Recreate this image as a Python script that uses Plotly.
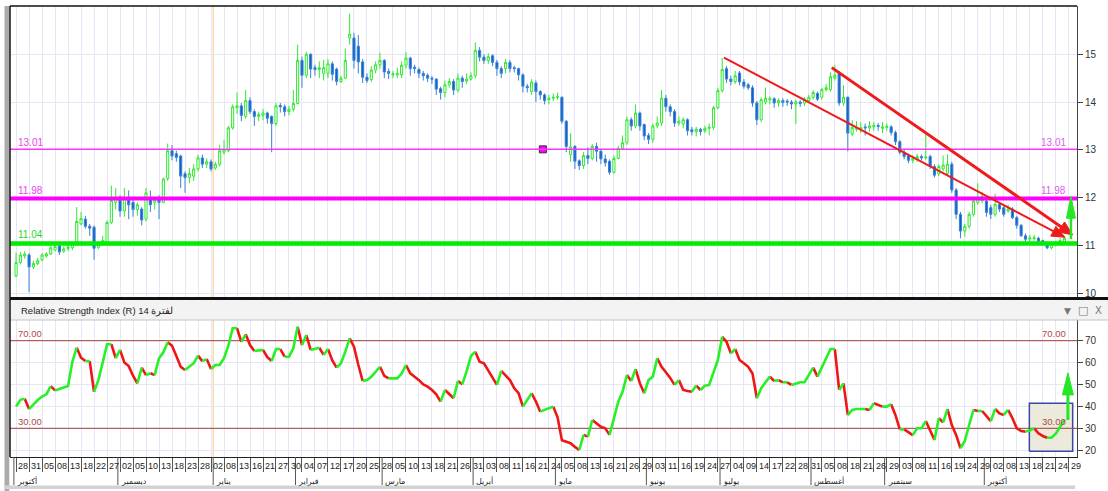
import math
import plotly.graph_objects as go

# ----------------------------- data -----------------------------
opens = [10.36,10.64,10.78,10.80,10.55,10.62,10.70,10.78,10.82,10.90,
         10.99,10.88,10.93,10.95,11.02,11.45,11.55,11.40,11.38,10.96,
         11.03,11.05,11.48,11.90,11.98,11.72,12.00,11.90,11.75,11.76,
         11.55,12.00,11.90,11.97,11.90,12.40,12.98,12.92,12.87,12.50,
         12.42,12.45,12.60,12.83,12.70,12.75,12.62,12.70,12.95,12.98,
         13.46,13.88,13.92,13.70,14.03,13.80,13.70,13.72,13.77,13.70,
         13.55,13.93,13.90,13.80,13.85,13.97,14.87,14.56,15.00,14.72,
         14.68,14.60,14.60,14.80,14.69,14.43,14.50,15.34,15.34,15.17,
         14.84,14.52,14.47,14.67,14.78,14.87,14.64,14.57,14.57,14.57,
         14.77,14.92,14.73,14.68,14.60,14.56,14.50,14.48,14.28,14.20,
         14.36,14.43,14.25,14.50,14.44,14.48,14.55,15.08,14.94,14.87,
         14.97,14.83,14.70,14.70,14.83,14.72,14.70,14.57,14.33,14.22,
         14.40,14.22,14.15,14.05,14.08,14.10,14.10,13.60,12.90,13.07,
         12.77,12.67,12.88,12.82,13.07,12.97,12.81,12.76,12.53,12.82,
         13.03,13.15,13.63,13.50,13.77,13.53,13.30,13.22,13.50,13.56,
         14.08,13.90,13.80,13.56,13.54,13.63,13.42,13.38,13.43,13.40,
         13.45,13.47,13.88,14.24,14.70,14.48,14.43,14.61,14.42,14.36,
         14.30,13.98,13.63,14.00,14.05,14.07,13.98,14.03,14.02,14.00,
         13.96,14.00,13.98,14.03,14.10,14.18,14.10,14.26,14.26,14.50,
         14.60,13.98,14.10,13.33,13.43,13.44,13.48,13.46,13.48,13.51,
         13.45,13.47,13.48,13.36,13.17,12.95,12.88,12.78,12.80,12.86,
         12.83,12.86,12.65,12.50,12.60,12.50,12.70,12.16,11.65,11.30,
         11.40,11.65,11.90,11.93,11.93,11.79,11.65,11.86,11.79,11.72,
         11.76,11.58,11.42,11.20,11.13,11.14,11.15,11.10,11.06,10.95,
         11.02,11.04,11.08]

highs = [10.85,10.86,10.88,10.84,10.68,10.74,10.84,10.86,11.00,11.06,
         11.02,10.98,11.00,11.06,11.80,11.70,11.62,11.45,11.42,11.06,
         11.20,11.52,12.25,12.20,12.05,12.20,12.15,11.95,11.90,11.80,
         12.20,12.15,12.02,12.05,12.42,13.13,13.10,12.98,12.90,12.55,
         12.62,12.70,12.90,12.90,12.82,12.80,12.75,13.10,13.20,13.50,
         13.95,14.20,13.98,14.25,14.10,13.85,13.80,13.85,13.80,13.72,
         13.98,13.98,13.95,13.92,14.25,15.20,14.95,15.05,15.02,14.78,
         14.85,14.88,14.90,14.85,14.72,14.55,15.12,15.85,15.45,15.40,
         14.90,14.60,14.75,14.85,15.03,14.90,14.70,14.65,14.72,14.85,
         15.05,14.95,14.78,14.72,14.65,14.60,14.55,14.50,14.32,14.45,
         14.50,14.48,14.60,14.55,14.60,14.62,15.25,15.15,15.00,15.02,
         15.00,14.88,14.75,14.90,14.88,14.76,14.72,14.60,14.38,14.48,
         14.45,14.25,14.18,14.15,14.18,14.20,14.12,13.62,13.35,13.10,
         12.80,12.95,13.05,13.12,13.15,13.02,12.90,12.80,12.88,13.08,
         13.30,13.70,13.68,13.95,13.80,13.55,13.35,13.55,13.70,14.25,
         14.15,13.95,13.85,13.70,13.68,13.66,13.48,13.48,13.46,13.50,
         13.55,13.92,14.30,14.92,14.75,14.55,14.65,14.65,14.48,14.40,
         14.35,14.02,14.10,14.30,14.12,14.10,14.08,14.08,14.06,14.04,
         14.05,14.04,14.10,14.15,14.25,14.22,14.30,14.38,14.62,14.78,
         14.65,14.35,14.12,13.62,13.60,13.58,13.55,13.60,13.58,13.56,
         13.58,13.55,13.52,13.40,13.20,13.00,12.92,12.88,12.92,12.90,
         13.32,12.90,12.70,12.70,12.88,12.90,12.75,12.20,11.70,11.45,
         11.70,12.00,12.30,12.12,12.00,11.85,12.08,11.90,11.85,11.85,
         11.80,11.62,11.45,11.25,11.22,11.22,11.18,11.12,11.08,11.08,
         11.10,11.15,11.20]

lows = [10.33,10.60,10.72,10.02,10.50,10.58,10.66,10.74,10.80,10.88,
        10.80,10.84,10.88,10.90,11.00,11.42,11.35,11.20,10.70,10.92,
        11.00,11.02,11.45,11.75,11.60,11.60,11.55,11.60,11.62,11.42,
        11.50,11.70,11.75,11.55,11.88,12.35,12.78,12.75,12.20,12.10,
        12.30,12.35,12.55,12.62,12.62,12.55,12.58,12.65,12.90,12.95,
        13.42,13.75,13.60,13.65,13.75,13.50,13.60,13.62,13.55,12.95,
        13.50,13.78,13.70,13.72,13.80,13.95,14.30,14.50,14.50,14.55,
        14.50,14.45,14.50,14.45,14.35,14.40,14.48,15.20,14.70,14.60,
        14.40,14.40,14.42,14.60,14.70,14.50,14.48,14.50,14.50,14.50,
        14.70,14.55,14.60,14.50,14.45,14.42,14.38,14.15,14.05,14.10,
        14.30,14.15,14.20,14.30,14.38,14.45,14.50,14.85,14.80,14.80,
        14.75,14.55,14.50,14.60,14.62,14.62,14.45,14.20,14.20,14.15,
        14.00,14.05,13.95,13.95,14.02,14.05,13.55,12.95,12.75,12.60,
        12.58,12.60,12.70,12.78,12.75,12.70,12.65,12.48,12.50,12.80,
        13.00,13.10,13.40,13.45,13.40,13.20,13.12,13.15,13.45,13.50,
        13.80,13.70,13.48,13.50,13.45,13.30,13.30,13.28,13.30,13.35,
        13.30,13.42,13.85,14.20,14.40,14.35,14.38,14.35,14.28,14.25,
        13.90,13.52,13.58,13.95,13.95,13.88,13.90,13.90,13.92,13.85,
        13.54,13.90,13.92,13.98,14.05,14.02,14.05,14.22,14.22,14.45,
        13.92,13.92,12.97,13.28,13.38,13.35,13.30,13.38,13.40,13.40,
        13.35,13.40,13.30,13.10,12.90,12.80,12.72,12.72,12.75,12.78,
        12.80,12.60,12.42,12.45,12.55,12.45,12.10,11.55,11.15,11.18,
        11.35,11.60,11.85,11.88,11.60,11.55,11.60,11.70,11.60,11.68,
        11.55,11.35,11.18,11.08,11.08,11.10,11.05,11.00,10.92,10.92,
        10.98,11.00,11.05]

closes = [10.64,10.80,10.82,10.55,10.62,10.68,10.80,10.82,10.95,10.98,
          10.86,10.93,10.97,11.02,11.50,11.56,11.40,11.36,10.94,11.03,
          11.10,11.48,11.94,11.98,11.72,11.98,11.85,11.75,11.85,11.53,
          12.10,11.85,11.96,11.90,12.39,12.98,12.87,12.84,12.45,12.42,
          12.50,12.60,12.83,12.70,12.75,12.60,12.70,12.98,13.00,13.46,
          13.90,13.92,13.72,14.03,13.80,13.70,13.74,13.77,13.66,13.55,
          13.92,13.90,13.80,13.85,13.97,14.87,14.56,15.00,14.69,14.68,
          14.72,14.72,14.80,14.58,14.43,14.50,14.87,15.42,14.87,14.84,
          14.52,14.45,14.67,14.78,14.87,14.63,14.60,14.59,14.60,14.77,
          14.92,14.70,14.70,14.60,14.55,14.50,14.48,14.27,14.20,14.36,
          14.43,14.25,14.50,14.43,14.48,14.55,15.08,14.94,14.87,14.95,
          14.83,14.70,14.60,14.83,14.70,14.70,14.57,14.33,14.30,14.42,
          14.22,14.15,14.03,14.08,14.10,14.11,13.60,13.07,13.06,12.76,
          12.67,12.88,12.82,13.07,12.97,12.81,12.73,12.53,12.82,13.03,
          13.15,13.63,13.50,13.77,13.50,13.29,13.22,13.50,13.56,14.08,
          13.90,13.80,13.56,13.60,13.63,13.40,13.38,13.43,13.38,13.45,
          13.47,13.88,14.24,14.68,14.48,14.43,14.55,14.42,14.33,14.30,
          13.98,13.63,14.05,14.08,14.07,13.98,14.03,13.99,14.00,13.96,
          14.00,13.97,14.06,14.10,14.20,14.06,14.26,14.30,14.53,14.56,
          13.98,14.10,13.35,13.47,13.45,13.46,13.46,13.50,13.51,13.49,
          13.48,13.49,13.36,13.17,12.95,12.86,12.78,12.82,12.86,12.83,
          12.85,12.65,12.47,12.65,12.68,12.70,12.16,11.65,11.30,11.40,
          11.65,11.93,12.00,12.02,11.69,11.65,11.86,11.76,11.65,11.76,
          11.58,11.42,11.20,11.13,11.16,11.16,11.08,11.05,10.95,11.05,
          11.06,11.10,11.15]

rsi_values = [40,43,43.5,38.8,41,42.9,44.5,45.5,49.3,47.3,
              48,48.5,49.3,60.4,66.8,62.2,60.7,60.7,46.7,52,
              60,68.4,68.4,62,65.8,60,58.4,54,50.5,57.7,
              54.3,55.1,54.3,62,64.7,69.3,67.7,63,58.1,56.6,
              58,59.7,63.2,60.7,61.6,57.1,58.9,58.9,62,67.7,
              75.7,75.7,69.5,72.9,68,65.3,65.5,65.8,62.5,60.7,
              66.2,66.2,62.7,62.7,66.5,76.4,68,72.6,65.8,66.3,
              66.8,63.5,66.2,61,57.7,59.7,65,71.1,67.3,59,
              51.6,52,53.5,56,58.1,54,52.8,52.8,52.8,55,
              58.9,55.1,53.5,52,50,49,47.5,45.5,42.2,47.5,
              45.7,43.7,51.6,50.1,56,63,65,60.4,59.7,56.5,
              53,49.8,56.2,54,52,48.3,46,39.9,43,46,
              42.2,37.6,38.5,39.2,39.9,35,24.5,23.9,23.2,21.5,
              20.1,27,26.2,33.8,32.3,30.7,30,27,34.6,42.1,
              46.7,54.3,51.6,57,50.5,46,52,53.6,62,58.1,
              55.6,53,49.8,52,47.5,47,46.7,49.5,47.5,49.5,
              49.8,55.8,61.2,71.8,69.5,64.2,66.2,61.2,59.7,58.1,
              55,43.7,48.3,51,53.6,51.6,52,51,51,49.8,
              50.5,51,51,54.7,57.7,53.6,58.1,62,66.2,66.2,
              47.5,50.5,36,38.4,38.8,38.8,38.8,38.4,41.4,40.5,
              39.9,39.9,41,36,29.5,29.5,28.2,26.9,30,30,
              33.3,29,24.7,34.6,32.7,38.8,31.5,27,20.9,24.2,
              31.5,38.4,37.9,37.9,35.5,33.3,38.8,36.8,36.1,38.4,
              34.6,30,28.8,28.5,29,30,27.7,26.5,25.7,25.7,
              27.5,30.7,33.8]

tick_labels = ["28","31","05","08","13","18","22","27",
               "02","05","10","13","18","23","28",
               "02","08","13","16","21","27","30",
               "04","07","12","17","20","25",
               "28","05","10","13","18","21","26",
               "31","03","08","11","16","21","24",
               "05","08","13","16","21","26","29",
               "03","11","16","19","24",
               "27","04","09","14","17","22","28",
               "31","05","08","18","21","26",
               "29","03","08","11","16","19","24","29",
               "02","08","13","18","21","24","29"]
tick_step = 3

month_names = ["أكتوبر","ديسمبر","يناير","فبراير","مارس","أبريل",
               "مايو","يونيو","يوليو","أغسطس","سبتمبر","أكتوبر"]
month_boundaries = [-0.5, 23.5, 45.5, 64.5, 84.5, 105.5, 124.5, 145.5, 162.5, 183.5, 200.5, 223.5]
year_boundary = 45.5

price_levels = [13.01, 11.98, 11.04]
price_level_labels = ["13.01", "11.98", "11.04"]
rsi_levels = [70, 30]
rsi_level_labels = ["70.00", "30.00"]

# drawn objects (candle index, value)
trend_lines = [(163.4, 14.93, 242.1, 11.17), (188.3, 14.72, 243.9, 11.22)]
price_arrow = (243.5, 11.13, 243.5, 12.03)
rsi_arrow = (242.8, 33.8, 242.8, 55.3)
rsi_box = (233.9, 19.5, 243.9, 41.4)
marker_point = (121.6, 13.01)

# ----------------------------- layout constants -----------------------------
W, H = 1108, 491
PL, PR = 10, 1077
P_TOP, P_BOT = 6, 297
R_TOP, R_BOT = 320, 457
X_RANGE = [-1.4, 244.9]
P_RANGE = [9.92, 16.01]
R_RANGE = [16.9, 79.45]

GRID = "#e6e6f4"
FONT = "Liberation Sans, Arial, sans-serif"
AR_FONT = "DejaVu Sans, sans-serif"


def py2paper(py):
    return (R_BOT - py) / (R_BOT - P_TOP)


def px2paper(px):
    return (px - PL) / (PR - PL)


def data_to_px(x, y, panel):
    px = PL + (x - X_RANGE[0]) / (X_RANGE[1] - X_RANGE[0]) * (PR - PL)
    if panel == "price":
        py = P_TOP + (P_RANGE[1] - y) / (P_RANGE[1] - P_RANGE[0]) * (P_BOT - P_TOP)
    else:
        py = R_TOP + (R_RANGE[1] - y) / (R_RANGE[1] - R_RANGE[0]) * (R_BOT - R_TOP)
    return px, py


def px_to_data(px, py, panel):
    x = X_RANGE[0] + (px - PL) / (PR - PL) * (X_RANGE[1] - X_RANGE[0])
    if panel == "price":
        y = P_RANGE[1] - (py - P_TOP) / (P_BOT - P_TOP) * (P_RANGE[1] - P_RANGE[0])
    else:
        y = R_RANGE[1] - (py - R_TOP) / (R_BOT - R_TOP) * (R_RANGE[1] - R_RANGE[0])
    return x, y


fig = go.Figure()

# RSI box (drawn first so lines sit on top, gridlines hidden under it)
bx0, by0, bx1, by1 = rsi_box
fig.add_trace(go.Scatter(x=[bx0, bx1, bx1, bx0, bx0], y=[by0, by0, by1, by1, by0], mode="lines",
                         fill="toself", fillcolor="#ece9dd", line=dict(color="#3a47a8", width=1.5),
                         xaxis="x2", yaxis="y2", hoverinfo="skip", showlegend=False))
# RSI level lines
for lv in rsi_levels:
    fig.add_trace(go.Scatter(x=[X_RANGE[0], X_RANGE[1]], y=[lv, lv], mode="lines",
                             line=dict(color="#a23c3c", width=1), xaxis="x2", yaxis="y2",
                             hoverinfo="skip", showlegend=False))

idx = list(range(len(closes)))
fig.add_trace(go.Candlestick(
    x=idx, open=opens, high=highs, low=lows, close=closes,
    increasing=dict(line=dict(color="#2fe82f", width=1), fillcolor="#ffffff"),
    decreasing=dict(line=dict(color="#3b80d6", width=1), fillcolor="#0b5fc6"),
    whiskerwidth=0, xaxis="x", yaxis="y", hoverinfo="skip", showlegend=False))

# RSI coloured runs
runs = []
for i in range(len(rsi_values) - 1):
    up = rsi_values[i + 1] >= rsi_values[i]
    if runs and runs[-1][0] == up:
        runs[-1][1].append(i + 1)
    else:
        runs.append([up, [i, i + 1]])
gx, gy, rx, ry = [], [], [], []
for up, pts in runs:
    tx, ty = (gx, gy) if up else (rx, ry)
    tx.extend(pts + [None])
    ty.extend([rsi_values[p] for p in pts] + [None])

fig.add_trace(go.Scatter(x=rx, y=ry, mode="lines", line=dict(color="#f01616", width=2.6),
                         xaxis="x2", yaxis="y2", hoverinfo="skip", showlegend=False))
fig.add_trace(go.Scatter(x=gx, y=gy, mode="lines", line=dict(color="#26f026", width=2.6),
                         xaxis="x2", yaxis="y2", hoverinfo="skip", showlegend=False))

shapes = []
annotations = []

# year boundary (orange)
shapes.append(dict(type="line", xref="x", yref="paper", x0=year_boundary, x1=year_boundary,
                   y0=py2paper(P_BOT), y1=1, line=dict(color="#f6c88c", width=1), layer="below"))
shapes.append(dict(type="line", xref="x2", yref="paper", x0=year_boundary, x1=year_boundary,
                   y0=0, y1=py2paper(R_TOP), line=dict(color="#f6c88c", width=1), layer="below"))

# price levels
lvl_style = [("#ff33ff", 1.5), ("#ff00ff", 4), ("#00ee00", 4.5)]
for lv, (c, w) in zip(price_levels, lvl_style):
    shapes.append(dict(type="line", xref="paper", yref="y", x0=0, x1=1, y0=lv, y1=lv,
                       line=dict(color=c, width=w), layer="above"))


def add_arrow(x0, y0, x1, y1, panel, color, width, head_len, head_w):
    xr = "x" if panel == "price" else "x2"
    yr = "y" if panel == "price" else "y2"
    p0 = data_to_px(x0, y0, panel)
    p1 = data_to_px(x1, y1, panel)
    dx, dy = p1[0] - p0[0], p1[1] - p0[1]
    L = math.hypot(dx, dy)
    ux, uy = dx / L, dy / L
    nx, ny = -uy, ux
    bx, by = p1[0] - head_len * ux, p1[1] - head_len * uy
    sx, sy = px_to_data(bx + ux, by + uy, panel)
    shapes.append(dict(type="line", xref=xr, yref=yr, x0=x0, y0=y0, x1=sx, y1=sy,
                       line=dict(color=color, width=width), layer="above"))
    pts = [p1, (bx + nx * head_w / 2, by + ny * head_w / 2), (bx - nx * head_w / 2, by - ny * head_w / 2)]
    dpts = [px_to_data(a, b, panel) for a, b in pts]
    path = "M {} {} L {} {} L {} {} Z".format(dpts[0][0], dpts[0][1], dpts[1][0], dpts[1][1],
                                             dpts[2][0], dpts[2][1])
    shapes.append(dict(type="path", xref=xr, yref=yr, path=path, fillcolor=color,
                       line=dict(color=color, width=1), layer="above"))


add_arrow(*trend_lines[0], "price", "#f01a1a", 2, 13, 11)
add_arrow(*trend_lines[1], "price", "#f01a1a", 3, 14, 12)
add_arrow(*price_arrow, "price", "#26e626", 2.5, 22, 9)
add_arrow(*rsi_arrow, "rsi", "#26e626", 3, 22, 11)

# frame pieces
shapes.append(dict(type="rect", xref="paper", yref="paper", x0=px2paper(4.5), x1=px2paper(9.3),
                   y0=py2paper(491), y1=py2paper(6), fillcolor="#ababab", line=dict(width=0)))
shapes.append(dict(type="rect", xref="paper", yref="paper", x0=px2paper(4.5), x1=px2paper(1075),
                   y0=py2paper(489), y1=py2paper(485.5), fillcolor="#d2d2d2", line=dict(width=0)))
shapes.append(dict(type="rect", xref="paper", yref="paper", x0=0, x1=px2paper(1108),
                   y0=py2paper(320), y1=py2paper(300), fillcolor="#f3f3f3",
                   line=dict(width=0)))
shapes.append(dict(type="line", xref="paper", yref="paper", x0=0, x1=px2paper(1108),
                   y0=py2paper(320), y1=py2paper(320), line=dict(color="#c4c4c4", width=1)))
shapes.append(dict(type="line", xref="paper", yref="paper", x0=0, x1=px2paper(1108),
                   y0=py2paper(298.5), y1=py2paper(298.5), line=dict(color="#111111", width=3)))
shapes.append(dict(type="line", xref="paper", yref="paper", x0=0, x1=1,
                   y0=1, y1=1, line=dict(color="#111111", width=1.5)))
shapes.append(dict(type="line", xref="paper", yref="paper", x0=0, x1=0,
                   y0=0, y1=1, line=dict(color="#111111", width=1.5)))

# month dividers and labels
for b, name in zip(month_boundaries, month_names):
    shapes.append(dict(type="line", xref="x2", yref="paper", x0=b, x1=b,
                       y0=0, y1=py2paper(485), line=dict(color="#555555", width=1)))
    annotations.append(dict(x=b, y=py2paper(481), xref="x2", yref="paper", text=name,
                            showarrow=False, xanchor="left", yanchor="middle", xshift=1,
                            font=dict(family=AR_FONT, size=8, color="#222222")))

tick_pos = [k * tick_step for k in range(len(tick_labels))]
for p, t in zip(tick_pos, tick_labels):
    annotations.append(dict(x=p, y=py2paper(466), xref="x2", yref="paper", text=t,
                            showarrow=False, xanchor="left", yanchor="middle", xshift=0,
                            font=dict(family=FONT, size=9, color="#222222")))

# level labels
lbl_colors_left = ["#f03cf0", "#f03cf0", "#2ad42a"]
lbl_shift = [7, 8, 9]
for lv, txt, c, s in zip(price_levels, price_level_labels, lbl_colors_left, lbl_shift):
    annotations.append(dict(x=px2paper(16), y=lv, xref="paper", yref="y", text=txt,
                            showarrow=False, xanchor="left", yanchor="middle", yshift=s,
                            font=dict(family=FONT, size=10, color=c)))
for lv, txt, s in zip(price_levels[:2], price_level_labels[:2], lbl_shift[:2]):
    annotations.append(dict(x=px2paper(1068), y=lv, xref="paper", yref="y", text=txt,
                            showarrow=False, xanchor="right", yanchor="middle", yshift=s,
                            font=dict(family=FONT, size=10, color="#e05cf0")))
for lv, txt in zip(rsi_levels, rsi_level_labels):
    annotations.append(dict(x=px2paper(16), y=lv, xref="paper", yref="y2", text=txt,
                            showarrow=False, xanchor="left", yanchor="middle", yshift=7,
                            font=dict(family=FONT, size=9.5, color="#b04a4a")))
    annotations.append(dict(x=px2paper(1068), y=lv, xref="paper", yref="y2", text=txt,
                            showarrow=False, xanchor="right", yanchor="middle", yshift=7,
                            font=dict(family=FONT, size=9.5, color="#b04a4a")))

# RSI header
annotations.append(dict(x=px2paper(19), y=py2paper(310.5), xref="paper", yref="paper",
                        text="Relative Strength Index (R) 14 لفترة", showarrow=False,
                        xanchor="left", yanchor="middle",
                        font=dict(family=FONT, size=9.5, color="#222222")))
for px, t, sz in [(1067.5, "▼", 9), (1083, "□", 11), (1098, "X", 10)]:
    annotations.append(dict(x=px2paper(px), y=py2paper(310.5), xref="paper", yref="paper",
                            text=t, showarrow=False, xanchor="center", yanchor="middle",
                            font=dict(family=AR_FONT, size=sz, color="#777777")))

# magenta marker on the 13.01 level (drawn last, on top of the level line)
fig.add_trace(go.Scatter(x=[marker_point[0]], y=[marker_point[1]], mode="markers",
                         marker=dict(symbol="square", size=7, color="#ff00ff",
                                     line=dict(color="#333333", width=1)),
                         xaxis="x", yaxis="y", hoverinfo="skip", showlegend=False,
                         cliponaxis=False))

fig.update_layout(
    width=W, height=H,
    margin=dict(l=PL, r=W - PR, t=P_TOP, b=H - R_BOT, autoexpand=False),
    paper_bgcolor="white", plot_bgcolor="white", showlegend=False,
    font=dict(family=FONT),
    xaxis=dict(domain=[0, 1], anchor="y", range=X_RANGE, tickvals=tick_pos,
               showticklabels=False, ticks="", showgrid=True, gridcolor=GRID, gridwidth=1,
               zeroline=False, showline=False, rangeslider=dict(visible=False), fixedrange=True),
    yaxis=dict(domain=[py2paper(P_BOT), 1], anchor="x", range=P_RANGE, side="right",
               tickvals=[10, 11, 12, 13, 14, 15], ticks="outside", ticklen=5, tickcolor="#444444",
               showline=True, linecolor="#444444", linewidth=1, showgrid=True, gridcolor=GRID,
               zeroline=False, automargin=False,
               tickfont=dict(family=FONT, size=10, color="#333333")),
    xaxis2=dict(domain=[0, 1], anchor="y2", range=X_RANGE, tickvals=tick_pos,
                showticklabels=False, ticks="outside", ticklen=14, tickcolor="#555555",
                showgrid=True, gridcolor=GRID, gridwidth=1, zeroline=False,
                showline=True, linecolor="#222222", linewidth=1),
    yaxis2=dict(domain=[0, py2paper(R_TOP)], anchor="x2", range=R_RANGE, side="right",
                tickvals=[20, 30, 40, 50, 60, 70], ticks="outside", ticklen=5, tickcolor="#444444",
                showline=True, linecolor="#444444", linewidth=1, showgrid=True, gridcolor=GRID,
                zeroline=False, automargin=False,
                tickfont=dict(family=FONT, size=10, color="#333333")),
    shapes=shapes, annotations=annotations,
)

fig.write_html("out.html", config={"displayModeBar": False},
               post_script="document.body.style.margin='0px';document.body.style.padding='0px';")
